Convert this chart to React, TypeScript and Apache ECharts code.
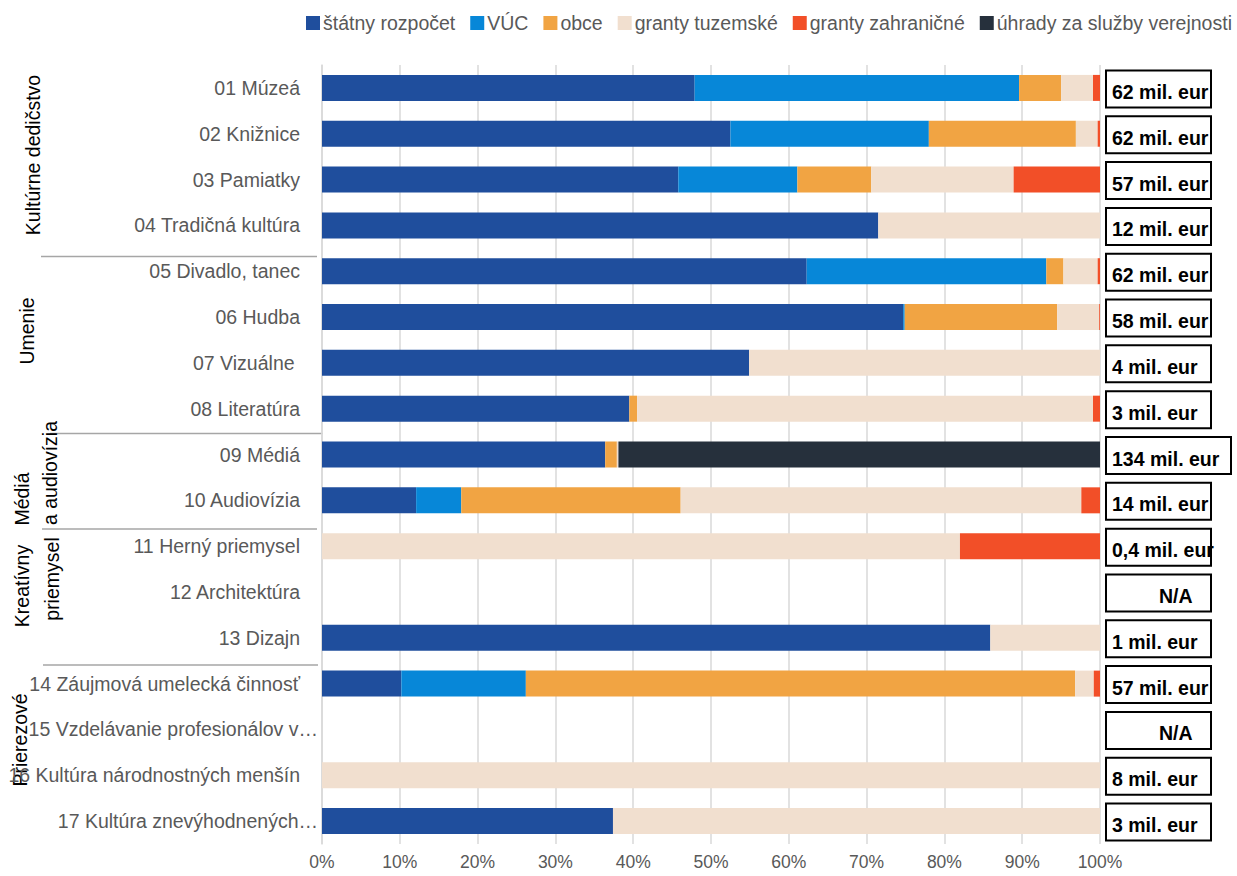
import React, { useEffect, useRef } from "react";
import * as echarts from "echarts";

const FONT = '"Liberation Sans", Arial, sans-serif';

const categories = [
  "01 Múzeá",
  "02 Knižnice",
  "03 Pamiatky",
  "04 Tradičná kultúra",
  "05 Divadlo, tanec",
  "06 Hudba",
  "07 Vizuálne ",
  "08 Literatúra",
  "09 Médiá",
  "10 Audiovízia",
  "11 Herný priemysel",
  "12 Architektúra",
  "13 Dizajn",
  "14 Záujmová umelecká činnosť",
  "15 Vzdelávanie profesionálov v…",
  "16 Kultúra národnostných menšín",
  "17 Kultúra znevýhodnených…",
];

const seriesNames = [
  "štátny rozpočet",
  "VÚC",
  "obce",
  "granty tuzemské",
  "granty zahraničné",
  "úhrady za služby verejnosti",
];

const statnyRozpocet = [47.9, 52.5, 45.8, 71.5, 62.3, 74.7, 54.9, 39.5, 36.4, 12.1, 0, 0, 85.9, 10.2, 0, 0, 37.4];
const vuc = [41.7, 25.5, 15.3, 0, 30.8, 0.2, 0, 0, 0, 5.8, 0, 0, 0, 16.0, 0, 0, 0];
const obce = [5.4, 18.9, 9.5, 0, 2.2, 19.6, 0, 1.0, 1.5, 28.2, 0, 0, 0, 70.6, 0, 0, 0];
const grantyTuzemske = [4.1, 2.8, 18.3, 28.5, 4.4, 5.4, 45.1, 58.6, 0.2, 51.5, 82.0, 0, 14.1, 2.4, 0, 100, 62.6];
const grantyZahranicne = [0.9, 0.3, 11.1, 0, 0.3, 0.1, 0, 0.9, 0, 2.4, 18.0, 0, 0, 0.8, 0, 0, 0];
const uhrady = [0, 0, 0, 0, 0, 0, 0, 0, 61.9, 0, 0, 0, 0, 0, 0, 0, 0];

const totals = [
  "62 mil. eur",
  "62 mil. eur",
  "57 mil. eur",
  "12 mil. eur",
  "62 mil. eur",
  "58 mil. eur",
  "4 mil. eur",
  "3 mil. eur",
  "134 mil. eur",
  "14 mil. eur",
  "0,4 mil. eur",
  "N/A",
  "1 mil. eur",
  "57 mil. eur",
  "N/A",
  "8 mil. eur",
  "3 mil. eur",
];

const xTicks = [0, 10, 20, 30, 40, 50, 60, 70, 80, 90, 100];

const colors = ["#1f4e9d", "#0787d8", "#f1a443", "#f1dfcf", "#f24f28", "#26303c"];

const seriesValues = [statnyRozpocet, vuc, obce, grantyTuzemske, grantyZahranicne, uhrady];

let measureCtx: CanvasRenderingContext2D | null = null;
function measure(text: string, font: string) {
  if (!measureCtx) measureCtx = document.createElement("canvas").getContext("2d");
  if (!measureCtx) return text.length * 9;
  measureCtx.font = font;
  return measureCtx.measureText(text).width;
}

export default function App() {
  const ref = useRef<HTMLDivElement>(null);

  useEffect(() => {
    document.body.style.margin = "0";
    const chart = echarts.init(ref.current!, undefined, { renderer: "svg" });

    const barSeries = seriesNames.map((name, k) => ({
      name,
      type: "bar",
      stack: "total",
      barWidth: 26,
      itemStyle: { color: colors[k] },
      emphasis: { disabled: true },
      data: seriesValues[k],
    }));

    const boxFont = `bold 19.5px ${FONT}`;

    const totalSeries = {
      type: "custom",
      clip: false,
      silent: true,
      z: 10,
      encode: { x: 0, y: 1 },
      data: totals.map((_, i) => [xTicks[xTicks.length - 1], i]),
      renderItem: (params: any, api: any) => {
        const i = params.dataIndex;
        const p = api.coord([api.value(0), api.value(1)]);
        const label = totals[i];
        const tw = measure(label, boxFont);
        const w = tw > 104.5 ? 125 : 105;
        const h = 37;
        const x = p[0] + 6;
        const y = p[1] - h / 2 + 1;
        const tx = label === "N/A" ? x + 53 : x + 6;
        return {
          type: "group",
          children: [
            {
              type: "rect",
              shape: { x, y, width: w, height: h },
              style: { fill: "#ffffff", stroke: "#000000", lineWidth: 2 },
            },
            {
              type: "text",
              x: tx,
              y: p[1] + 4,
              style: {
                text: label,
                fill: "#000000",
                fontSize: 19.5,
                fontWeight: "bold",
                fontFamily: FONT,
                textAlign: "left",
                textVerticalAlign: "middle",
                align: "left",
                verticalAlign: "middle",
              },
            },
          ],
        };
      },
    };

    const groupText = (text: string, x: number, y: number) => ({
      type: "text",
      x,
      y,
      rotation: Math.PI / 2,
      silent: true,
      style: {
        text,
        fill: "#000000",
        fontSize: 19.5,
        fontFamily: FONT,
        textAlign: "center",
        textVerticalAlign: "middle",
        align: "center",
        verticalAlign: "middle",
      },
    });

    const sepLine = (x1: number, x2: number, y: number) => ({
      type: "line",
      silent: true,
      shape: { x1, y1: y, x2, y2: y },
      style: { stroke: "#a6a6a6", lineWidth: 1.5 },
    });

    chart.setOption({
      animation: false,
      textStyle: { fontFamily: FONT },
      legend: {
        data: seriesNames,
        left: 301,
        top: 8,
        icon: "rect",
        itemWidth: 14,
        itemHeight: 14,
        itemGap: 15,
        selectedMode: false,
        textStyle: { color: "#595959", fontSize: 19.5, fontFamily: FONT, padding: [0, 0, 0, -2] },
      },
      grid: { left: 322, right: 137, top: 65, bottom: 32, containLabel: false },
      xAxis: {
        type: "value",
        min: 0,
        max: 100,
        interval: 10,
        axisLine: { show: false },
        axisTick: { show: false },
        splitLine: { show: true, lineStyle: { color: "#d9d9d9", width: 1.5 } },
        axisLabel: {
          formatter: "{value}%",
          color: "#595959",
          fontSize: 17.5,
          fontFamily: FONT,
          margin: 9,
        },
      },
      yAxis: {
        type: "category",
        inverse: true,
        data: categories,
        axisTick: { show: false },
        axisLine: { show: true, lineStyle: { color: "#d9d9d9", width: 1.5 } },
        axisLabel: {
          margin: 4,
          formatter: (v: string) => (v.endsWith("…") ? `{t|${v}}` : `{n|${v}}`),
          rich: {
            n: { padding: [0, 18, 0, 0], fontSize: 19.5, color: "#595959", fontFamily: FONT },
            t: { fontSize: 19.5, color: "#595959", fontFamily: FONT },
          },
        },
      },
      series: [...barSeries, totalSeries],
      graphic: [
        sepLine(41, 317, 256.5),
        sepLine(50, 323, 433.5),
        sepLine(42, 317, 529),
        sepLine(43, 318, 665),
        groupText("Kultúrne dedičstvo", 33, 155),
        groupText("Umenie", 27, 331),
        groupText("Médiá", 22, 499),
        groupText("a audiovízia", 50, 473),
        groupText("Kreatívny", 22, 586),
        groupText("priemysel", 52, 579),
        groupText("Prierezové", 20, 740),
      ],
    });

    return () => chart.dispose();
  }, []);

  return (
    <div
      ref={ref}
      style={{ position: "absolute", left: 0, top: 0, width: 1237, height: 876 }}
    />
  );
}
